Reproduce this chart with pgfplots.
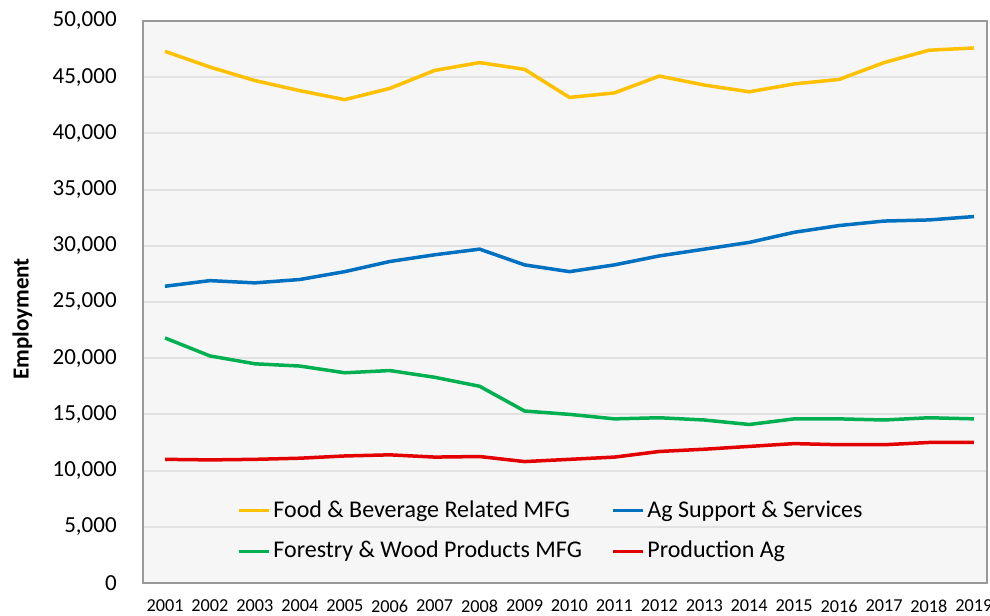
\documentclass[border=0pt]{standalone}
\usepackage{fontspec}
\setmainfont{Carlito}
\usepackage{pgfplots}
\pgfplotsset{compat=1.18}
\definecolor{cfood}{RGB}{255,192,0}
\definecolor{cag}{RGB}{0,112,192}
\definecolor{cfor}{RGB}{0,176,80}
\definecolor{cprod}{RGB}{226,0,0}
\definecolor{plotbg}{RGB}{246,246,246}
\definecolor{gridc}{RGB}{226,226,226}

\begin{document}
\begin{tikzpicture}
\begin{axis}[
  scale only axis,
  width=337.6pt, height=224.8pt,
  xmin=2000.51, xmax=2019.29,
  ymin=0, ymax=50000,
  xtick={2001,...,2019},
  ytick={0,5000,...,50000},
  scaled y ticks=false,
  /pgf/number format/assume math mode=true,
  yticklabel style={font=\fontsize{9.2}{11}\selectfont, text=black, xshift=-7pt,
    /pgf/number format/fixed, /pgf/number format/1000 sep={,}},
  xticklabel style={font=\fontsize{7.3}{9}\selectfont, text=black, yshift=-3.3pt,
    /pgf/number format/1000 sep=},
  major tick length=0pt,
  xtick pos=bottom, ytick pos=left,
  ymajorgrids,
  grid style={gridc, line width=0.8pt},
  axis background/.style={fill=plotbg},
  axis line style={gray!80, line width=0.8pt},
  ylabel={\bfseries Employment},
  ylabel style={font=\fontsize{9.2}{11}\selectfont, at={(axis description cs:-0.143,0.47)}, anchor=center},
  legend style={at={(0.103,0.165)}, anchor=north west, draw=none, fill=none,
    font=\fontsize{9.6}{11}\selectfont, row sep=4pt,
    nodes={inner xsep=1pt},
    /tikz/every even column/.append style={column sep=11pt}},
  legend columns=2,
  legend cell align=left,
  legend image code/.code={\draw[#1, line width=1.2pt] (0pt,0pt) -- (12pt,0pt);},
  every axis plot/.append style={line width=1.4pt},
]
\addplot[cfood] coordinates {
 (2001,47300) (2002,45900) (2003,44700) (2004,43800) (2005,43000)
 (2006,44000) (2007,45600) (2008,46300) (2009,45700) (2010,43200)
 (2011,43600) (2012,45100) (2013,44300) (2014,43700) (2015,44400)
 (2016,44800) (2017,46300) (2018,47400) (2019,47600)};
\addlegendentry{Food \& Beverage Related MFG}
\addplot[cag] coordinates {
 (2001,26400) (2002,26900) (2003,26700) (2004,27000) (2005,27700)
 (2006,28600) (2007,29200) (2008,29700) (2009,28300) (2010,27700)
 (2011,28300) (2012,29100) (2013,29700) (2014,30300) (2015,31200)
 (2016,31800) (2017,32200) (2018,32300) (2019,32600)};
\addlegendentry{Ag Support \& Services}
\addplot[cfor] coordinates {
 (2001,21800) (2002,20200) (2003,19500) (2004,19300) (2005,18700)
 (2006,18900) (2007,18300) (2008,17500) (2009,15300) (2010,15000)
 (2011,14600) (2012,14700) (2013,14500) (2014,14100) (2015,14600)
 (2016,14600) (2017,14500) (2018,14700) (2019,14600)};
\addlegendentry{Forestry \& Wood Products MFG}
\addplot[cprod] coordinates {
 (2001,11000) (2002,10950) (2003,11000) (2004,11100) (2005,11300)
 (2006,11400) (2007,11200) (2008,11250) (2009,10800) (2010,11000)
 (2011,11200) (2012,11700) (2013,11900) (2014,12150) (2015,12400)
 (2016,12300) (2017,12300) (2018,12500) (2019,12500)};
\addlegendentry{Production Ag}
\end{axis}
\pgfresetboundingbox
\useasboundingbox ([xshift=-57.2pt, yshift=-13.2pt]current axis.south west)
  rectangle ([xshift=1.2pt, yshift=8.4pt]current axis.north east);
\end{tikzpicture}
\end{document}
